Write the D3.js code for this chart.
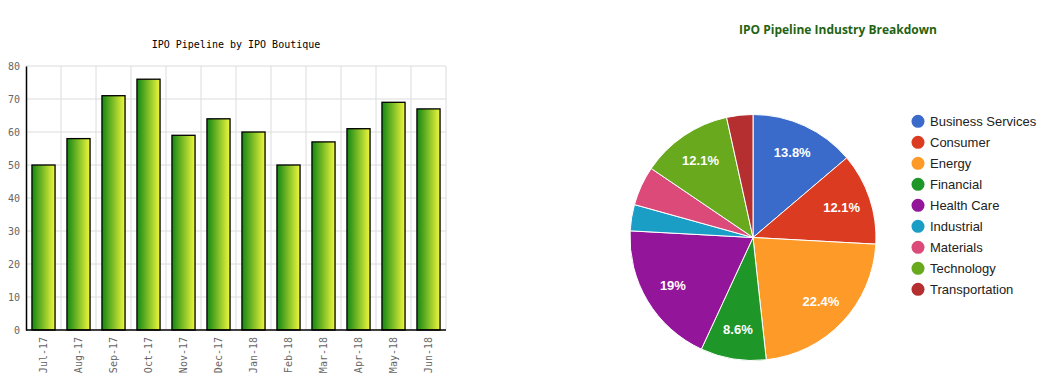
<!DOCTYPE html>
<html>
<head>
<meta charset="utf-8">
<script src="https://cdn.jsdelivr.net/npm/d3@7"></script>
<style>
  body { margin: 0; background: #fff; }
  svg { display: block; }
</style>
</head>
<body>
<script>
let w = 1048;
let h = 381;

// bar chart data
var months = ["Jul-17", "Aug-17", "Sep-17", "Oct-17", "Nov-17", "Dec-17", "Jan-18", "Feb-18", "Mar-18", "Apr-18", "May-18", "Jun-18"];
var ipoCounts = [50, 58, 71, 76, 59, 64, 60, 50, 57, 61, 69, 67];
var yTicks = [0, 10, 20, 30, 40, 50, 60, 70, 80];

// pie chart data
var industries = ["Business Services", "Consumer", "Energy", "Financial", "Health Care", "Industrial", "Materials", "Technology", "Transportation"];
var industryCounts = [8, 7, 13, 5, 11, 2, 3, 7, 2];
var industryColors = ["#3a6bcb", "#db3b20", "#fd9a28", "#1f9628", "#93169a", "#1b9ec6", "#dc4a7a", "#68a91e", "#b52f31"];

let svg = d3.select("body").append("svg").attr("width", w).attr("height", h);

drawBars(svg);
drawPie(svg);

function drawBars(svg) {
    let left = 26, right = 446, top = 66, bottom = 330;
    let mono = "'DejaVu Sans Mono', monospace";

    let defs = svg.append("defs");
    let grad = defs.append("linearGradient")
        .attr("id", "barGrad")
        .attr("x1", "0%").attr("x2", "100%")
        .attr("y1", "0%").attr("y2", "0%");
    grad.append("stop").attr("offset", "0%").attr("stop-color", "#138713");
    grad.append("stop").attr("offset", "100%").attr("stop-color", "#f0f73c");

    let xScale = d3.scaleBand()
        .domain(months)
        .range([left, right])
        .paddingInner(0.34)
        .paddingOuter(0.17);

    let yScale = d3.scaleLinear()
        .domain([0, 80])
        .range([bottom, top]);

    // title
    svg.append("text")
        .text("IPO Pipeline by IPO Boutique")
        .attr("x", (left + right) / 2)
        .attr("y", 48)
        .style("font-family", mono)
        .style("font-size", "10px")
        .style("fill", "#000")
        .style("text-anchor", "middle");

    // gridlines
    let step = (right - left) / months.length;
    svg.append("g").selectAll("line.vgrid")
        .data(d3.range(1, months.length + 1))
        .enter()
        .append("line")
        .attr("x1", function(i) { return left + step * i; })
        .attr("x2", function(i) { return left + step * i; })
        .attr("y1", top)
        .attr("y2", bottom)
        .style("stroke", "#dcdcdc")
        .style("stroke-width", 1);

    svg.append("g").selectAll("line.hgrid")
        .data(yTicks.slice(1))
        .enter()
        .append("line")
        .attr("x1", left)
        .attr("x2", right)
        .attr("y1", function(d) { return yScale(d); })
        .attr("y2", function(d) { return yScale(d); })
        .style("stroke", "#dcdcdc")
        .style("stroke-width", 1);

    // bars
    svg.append("g").selectAll("rect")
        .data(ipoCounts)
        .enter()
        .append("rect")
        .attr("x", function(d, i) { return xScale(months[i]); })
        .attr("y", function(d) { return yScale(d); })
        .attr("width", xScale.bandwidth())
        .attr("height", function(d) { return bottom - yScale(d); })
        .style("fill", "url(#barGrad)")
        .style("stroke", "#000")
        .style("stroke-width", 1.3);

    // axes
    let yAxis = d3.axisLeft(yScale).tickValues(yTicks).tickSize(0).tickPadding(6);
    let gy = svg.append("g")
        .attr("transform", "translate(" + left + ",0)")
        .call(yAxis);
    gy.select(".domain").style("stroke", "#000").style("stroke-width", 1.5);
    gy.selectAll("text")
        .style("font-family", mono)
        .style("font-size", "10px")
        .style("fill", "#666");

    let xAxis = d3.axisBottom(xScale).tickSize(0).tickPadding(7);
    let gx = svg.append("g")
        .attr("transform", "translate(0," + bottom + ")")
        .call(xAxis);
    gx.select(".domain").attr("d", "M" + left + ",0H" + right).style("stroke", "#000").style("stroke-width", 1.5);
    gx.selectAll("text")
        .attr("transform", "rotate(-90)")
        .attr("x", -7)
        .attr("y", 0)
        .attr("dy", "0.35em")
        .style("text-anchor", "end")
        .style("font-family", mono)
        .style("font-size", "10px")
        .style("fill", "#666");
}

function drawPie(svg) {
    let cx = 753, cy = 237.5, r = 123;
    let total = d3.sum(industryCounts);

    svg.append("text")
        .text("IPO Pipeline Industry Breakdown")
        .attr("x", 838)
        .attr("y", 34)
        .style("font-family", "'Open Sans', sans-serif")
        .style("font-weight", "bold")
        .style("font-size", "12px")
        .style("fill", "#1f6313")
        .style("text-anchor", "middle");

    let pie = d3.pie().sort(null).value(function(d) { return d; });
    let arcs = pie(industryCounts);
    let arc = d3.arc().innerRadius(0).outerRadius(r);
    let labelArc = d3.arc().innerRadius(r * 0.76).outerRadius(r * 0.76);

    let g = svg.append("g").attr("transform", "translate(" + cx + "," + cy + ")");

    g.selectAll("path")
        .data(arcs)
        .enter()
        .append("path")
        .attr("d", arc)
        .style("fill", function(d, i) { return industryColors[i]; })
        .style("stroke", "#fff")
        .style("stroke-width", 1);

    g.selectAll("text")
        .data(arcs.filter(function(d) { return d.value / total > 0.06; }))
        .enter()
        .append("text")
        .attr("transform", function(d) {
            let c = labelArc.centroid(d);
            return "translate(" + c[0] + "," + c[1] + ")";
        })
        .attr("dy", "0.35em")
        .text(function(d) { return (Math.round(d.value / total * 1000) / 10) + "%"; })
        .style("font-family", "'Liberation Sans', Arial, sans-serif")
        .style("font-size", "13px")
        .style("font-weight", "bold")
        .style("fill", "#fff")
        .style("text-anchor", "middle");

    // legend
    let legend = svg.append("g").selectAll("g")
        .data(industries)
        .enter()
        .append("g")
        .attr("transform", function(d, i) { return "translate(918," + (121.3 + i * 21) + ")"; });

    legend.append("circle")
        .attr("r", 6.5)
        .style("fill", function(d, i) { return industryColors[i]; });

    legend.append("text")
        .text(function(d) { return d; })
        .attr("x", 12)
        .attr("dy", "0.35em")
        .style("font-family", "'Liberation Sans', Arial, sans-serif")
        .style("font-size", "13px")
        .style("fill", "#222");
}
</script>
</body>
</html>
